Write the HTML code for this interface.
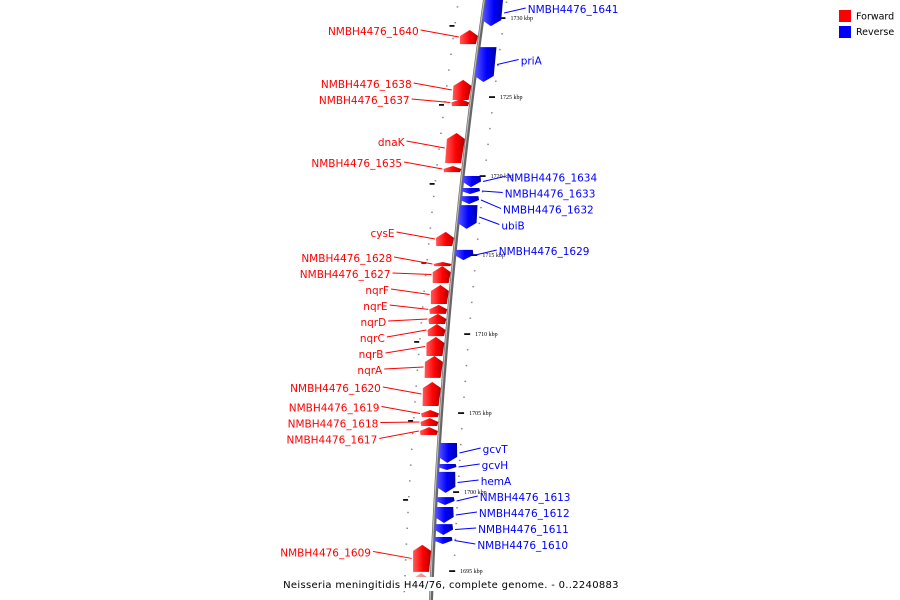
<!DOCTYPE html>
<html><head><meta charset="utf-8"><style>
html,body{margin:0;padding:0;background:#fff;}
svg{display:block;font-family:"DejaVu Sans","Liberation Sans",sans-serif;}
</style></head><body>
<svg id="map" width="900" height="600" viewBox="0 0 900 600" xmlns="http://www.w3.org/2000/svg">
<defs>
<linearGradient id="gr" x1="0" x2="1" y1="0" y2="0"><stop offset="0" stop-color="#ff5a5a"/><stop offset="0.55" stop-color="#ff0000"/><stop offset="1" stop-color="#b00000"/></linearGradient>
<linearGradient id="gb" x1="0" x2="1" y1="0" y2="0"><stop offset="0" stop-color="#5a5aff"/><stop offset="0.55" stop-color="#0000ff"/><stop offset="1" stop-color="#0000a8"/></linearGradient>
<linearGradient id="gp" x1="0" x2="1" y1="0" y2="0"><stop offset="0" stop-color="#ffc0c0"/><stop offset="1" stop-color="#e07070"/></linearGradient>
</defs>
<g id="g-ticks"></g>
<g id="g-backbone"></g>
<g id="g-genes"></g>
<g id="g-labels"></g>
<g>
<rect x="839" y="10" width="12" height="12" fill="#ff0000"/>
<text x="856" y="19.5" font-size="9.5" fill="#000">Forward</text>
<rect x="839" y="26" width="12" height="12" fill="#0000ff"/>
<text x="856" y="35" font-size="9.5" fill="#000">Reverse</text>
</g>
<rect x="300" y="577" width="302" height="14" fill="#fff"/>
<text x="451" y="588" font-size="10" text-anchor="middle" fill="#000" letter-spacing="0.3">Neisseria meningitidis H44/76, complete genome. - 0..2240883</text>
</svg>
<script>
const fwdNames = ["NMBH4476_1640","NMBH4476_1638","NMBH4476_1637","dnaK","NMBH4476_1635","cysE","NMBH4476_1628","NMBH4476_1627","nqrF","nqrE","nqrD","nqrC","nqrB","nqrA","NMBH4476_1620","NMBH4476_1619","NMBH4476_1618","NMBH4476_1617","NMBH4476_1609"];
const fwdStart = [1728.35,1724.81,1724.43,1720.82,1720.25,1715.57,1714.30,1713.23,1711.90,1711.27,1710.63,1709.87,1708.61,1707.22,1705.44,1704.75,1704.18,1703.61,1694.94];
const fwdEnd   = [1729.24,1726.08,1724.87,1722.72,1720.63,1716.46,1714.56,1714.30,1713.10,1711.84,1711.27,1710.63,1709.81,1708.61,1706.96,1705.19,1704.68,1704.11,1696.65];
const revNames = ["NMBH4476_1641","priA","NMBH4476_1634","NMBH4476_1633","NMBH4476_1632","ubiB","NMBH4476_1629","gcvT","gcvH","hemA","NMBH4476_1613","NMBH4476_1612","NMBH4476_1611","NMBH4476_1610"];
const revStart = [1731.14,1728.16,1720.00,1719.24,1718.73,1718.16,1715.32,1703.10,1701.77,1701.27,1699.68,1699.05,1697.97,1697.15];
const revEnd   = [1729.49,1725.95,1719.30,1718.86,1718.23,1716.65,1714.68,1701.84,1701.39,1699.94,1699.18,1698.04,1697.28,1696.71];
const tickKbp = [1730,1725,1720,1715,1710,1705,1700,1695];
const tickLabels = ["1730 kbp","1725 kbp","1720 kbp","1715 kbp","1710 kbp","1705 kbp","1700 kbp","1695 kbp"];

const NS="http://www.w3.org/2000/svg";
function yOf(k){return 18+(1730-k)*15.8;}
function xOf(y){return 485-0.1425*y+0.0000875*y*y;}
function mk(tag,attrs,parent){const e=document.createElementNS(NS,tag);for(const a in attrs)e.setAttribute(a,attrs[a]);parent.appendChild(e);return e;}

// backbone
const bb=document.getElementById('g-backbone');
let d="";for(let y=-5;y<=605;y+=5){d+=(y===-5?"M":"L")+xOf(y).toFixed(2)+","+y;}
const p1=mk('path',{d:d,stroke:'#666',"stroke-width":4,fill:'none'},bb);


const p2=mk('path',{d:d,stroke:'#bbb',"stroke-width":1.2,fill:'none',transform:'translate(-0.8,0)'},bb);



// ticks
const tg=document.getElementById('g-ticks');
for(let k=1731;k>=1693;k--){
  const y=yOf(k); if(y<0||y>600) continue;
  const x=xOf(y);
  const dotR=mk('rect',{x:x+21,y:y-0.7,width:1.6,height:1.4,fill:'#888'},tg);
  
  
  const dotL=mk('rect',{x:x-28,y:y+4,width:1.6,height:1.4,fill:'#888'},tg);
  
  
}
tickKbp.forEach((k,i)=>{
  const y=yOf(k),x=xOf(y);
  const t=mk('rect',{x:x+17,y:y-0.8,width:6,height:1.8,fill:'#111'},tg);
  
  
  const tl=mk('rect',{x:x-33,y:y+7,width:5,height:1.8,fill:'#111'},tg);
  
  
  const tx=mk('text',{x:x+28,y:y+2,"font-size":6,"font-family":"Liberation Serif, serif",fill:'#000'},tg);
  tx.textContent=tickLabels[i];
  
  
});

// genes
const gg=document.getElementById('g-genes');
function gene(s,e,fwd,name,pink){
  const yTop=yOf(Math.max(s,e)),yBot=yOf(Math.min(s,e));
  const len=yBot-yTop;const head=Math.min(6,len*0.5);
  const off=fwd?[-19,-3]:[1,18];
  const xt=xOf(yTop),xb=xOf(yBot),xm=xOf((yTop+yBot)/2);
  let pts;
  if(fwd){
    const yh=yTop+head;const xh=xOf(yh);
    pts=[[xb+off[0],yBot],[xb+off[1],yBot],[xh+off[1]+1,yh],[xt+(off[0]+off[1])/2,yTop],[xh+off[0]-1,yh]];
  }else{
    const yh=yBot-head;const xh=xOf(yh);
    pts=[[xt+off[0],yTop],[xt+off[1],yTop],[xh+off[1]+1,yh],[xb+(off[0]+off[1])/2,yBot],[xh+off[0]-1,yh]];
  }
  const poly=mk('polygon',{points:pts.map(p=>p[0].toFixed(1)+","+p[1].toFixed(1)).join(" "),fill:pink?'url(#gp)':(fwd?'url(#gr)':'url(#gb)')},gg);
  
  
  return {yc:(yTop+yBot)/2,x:xm+(fwd?off[0]:off[1])};
}
const fwdPos=fwdNames.map((n,i)=>gene(fwdStart[i],fwdEnd[i],true,n,false));
const revPos=revNames.map((n,i)=>gene(revStart[i],revEnd[i],false,n,false));
gene(1693.8,1694.87,true,'partial-bottom',true);

// labels
const lg=document.getElementById('g-labels');
function place(pos,shift){const ys=[];let prev=-1e9;pos.forEach(p=>{let y=Math.max(p.yc+shift,prev+16);ys.push(y);prev=y;});return ys;}
const fy=place(fwdPos,-6), ry=place(revPos,-4);
fwdPos.forEach((p,i)=>{
  const y=fy[i];const xe=xOf(y)-62;
  const ln=mk('line',{x1:xe+2,y1:y-1,x2:p.x-2,y2:p.yc,stroke:'#ff0000',"stroke-width":1},lg);
  
  
  const t=mk('text',{x:xe,y:y+4,"font-size":10.5,fill:'#ff0000',"text-anchor":'end'},lg);
  t.textContent=fwdNames[i];
  
  
});
revPos.forEach((p,i)=>{
  const y=ry[i];const xs=xOf(y)+44;
  const ln=mk('line',{x1:p.x+3,y1:p.yc,x2:xs-2,y2:y-1,stroke:'#0000ff',"stroke-width":1},lg);
  
  
  const t=mk('text',{x:xs,y:y+4,"font-size":10.5,fill:'#0000ff'},lg);
  t.textContent=revNames[i];
  
  
});
</script>
</body></html>
